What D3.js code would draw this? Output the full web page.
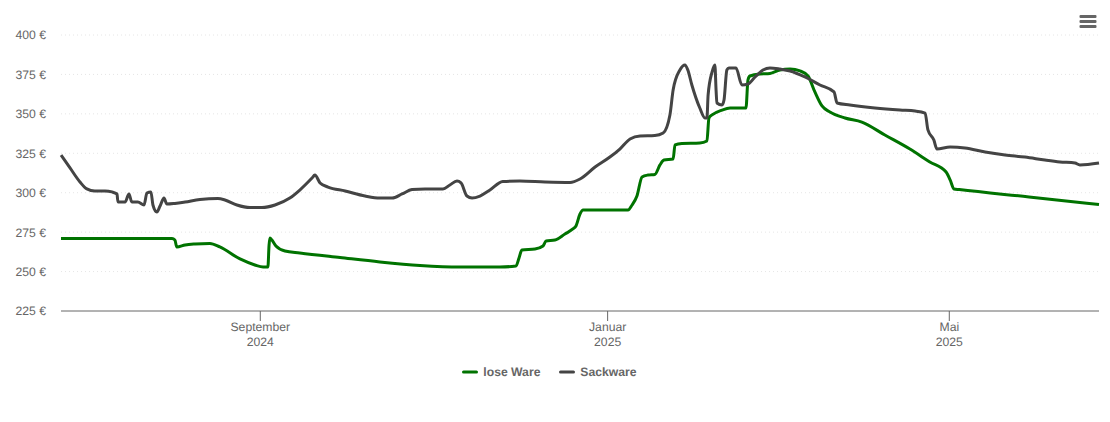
<!DOCTYPE html>
<html>
<head>
<meta charset="utf-8">
<script src="https://cdn.jsdelivr.net/npm/d3@7"></script>
<style>
    body { margin: 0; background: #fff; }
    text { font-family: "Liberation Sans", Arial, sans-serif; text-rendering: geometricPrecision; }
</style>
</head>
<body>
<div id="chart"></div>
<script>
// Data. Days are counted from startDate.
const startDate = new Date(2024, 5, 23);
const endDay = 364.6;

const yTicks = [225, 250, 275, 300, 325, 350, 375, 400];
const monthTicks = [new Date(2024, 8, 1), new Date(2025, 0, 1), new Date(2025, 4, 1)];
const monthNames = ["September", "Januar", "Mai"];
const yearNames = ["2024", "2025", "2025"];

const loseName = "lose Ware";
const loseDays = [0, 39, 40, 40.7, 43.6, 47.1, 52.3, 55.8, 62.9, 68.1, 71, 72.7, 73.1, 73.4, 74.1, 75.5, 78.7, 83.9,
    98, 112, 126.1, 140.1, 154.2, 159.8, 160.9, 161.9, 166.5, 169.3, 170.4, 173.5, 177, 179.8, 180.9, 182.3, 183.4,
    199.2, 200.6, 202.3, 204.1, 206.2, 208.6, 210.4, 211.8, 215, 215.7, 218.1, 224.4, 226.9, 227.6, 228.7, 232.2,
    235, 240.6, 241.3, 242, 245.5, 249, 252.5, 256.1, 259.6, 262.4, 264.8, 267.3, 270.1, 275.4, 281.3, 289.4, 298.2,
    305.2, 310.9, 312.3, 313.7, 315.5, 340, 364.6];
const loseValues = [270.9, 270.9, 270, 265.6, 266.9, 267.5, 267.8, 265.6, 258, 254.2, 252.9, 252.9, 266.9, 271.3, 270, 266.2, 263, 261.8,
    258.9, 256.1, 253.9, 252.9, 252.9, 253.5, 258.6, 263.7, 264.3, 266.2, 269.4, 270, 273.8, 277, 278.9, 286.5, 289,
    289, 292.2, 297.9, 310, 311.2, 311.6, 317.6, 320.7, 321.4, 330.3, 331.2, 331.5, 332.8, 347.4, 349.3, 352.4,
    353.7, 353.7, 371.5, 374, 375.3, 375.6, 377.8, 378.4, 377.2, 374, 363.9, 355, 351.2, 347.4, 344.8, 336.6, 327.7,
    319.5, 313.1, 308.1, 302.4, 302, 297.3, 292.5];

const sackName = "Sackware";
const sackDays = [0, 3.2, 6.7, 9.1, 11.9, 15.5, 17.9, 19.7, 20, 22.5, 23.9, 24.9, 27, 29.2, 30.2, 31.6, 32.3, 33.7, 34.8, 36.2, 37.2,
    40, 43.6, 48.8, 55.1, 57.6, 61.8, 66.4, 70.6, 75.2, 80.4, 83.9, 88.2, 89.2, 91, 93.8, 99.8, 106.8, 112, 116.3, 119.8,
    123.3, 127.9, 134.2, 136.6, 139.1, 140.5, 142.6, 144.4, 147.2, 150.7, 155.2, 161.2, 170, 178.8, 182.3, 187.6, 192.8,
    196.3, 199.9, 203.4, 208.6, 211.5, 213.9, 215, 217.4, 219.2, 220.2, 221.6, 224.4, 226.2, 226.9, 227.3, 228.7, 229.7,
    230.1, 230.4, 232.2, 232.9, 233.9, 234.6, 237.1, 239.2, 241.3, 243.8, 246.6, 249, 252.5, 256.1, 261.3, 266.6, 271.5,
    272.6, 277.1, 285.9, 294.7, 300, 303.5, 304.5, 306.6, 307.7, 312.3, 317.5, 324.6, 331.6, 338.6, 345.6, 350.9, 356.2, 357.9, 364.6];
const sackValues = [323.9, 315.7, 306.8, 302.4, 301.1, 301.1, 300.5, 299.2, 294.1, 294.1, 299.2, 294.1, 294.1, 292.2, 299.8, 300.5, 292.2, 287.8, 291.6, 296.6, 292.8,
    293.2, 294.1, 295.7, 296.3, 295.4, 292.2, 290.6, 290.6, 292.2, 296.6, 301.7, 309.3, 311.2, 306.2, 303.6, 301.1, 297.9, 296.6, 296.6, 299.2,
    302, 302.4, 302.4, 304.9, 307.4, 306.2, 297.9, 296.6, 297.9, 301.7, 307.1, 307.4, 306.8, 306.5, 308.7, 316.3, 322.6,
    327.7, 334.1, 336, 336.3, 337.9, 349.3, 365.1, 377.8, 381, 377.8, 368.3, 353.7, 347.4, 347.4, 362, 376.5, 381,
    365.1, 356.9, 355.6, 358.8, 377.8, 379.1, 379.1, 368.3, 368.9, 373.4, 377.8, 379.1, 378.4, 377.2, 373.4, 368.3, 363.9,
    356.9, 355.6, 353.7, 352.4, 351.8, 350.5, 339.8, 333.4, 327.7, 329, 328.4, 325.8, 323.9, 322.6, 320.7, 319.5, 318.8, 317.6, 318.8];

const width = 1110;
const height = 422;
const plotLeft = 61, plotRight = 1099, plotTop = 35, plotBottom = 311;
const fontSize = 12.2;

const svg = d3.select("#chart")
    .append("svg")
    .attr("width", width)
    .attr("height", height)
    .style("display", "block");

const x = d3.scaleTime()
    .domain([startDate, d3.timeHour.offset(startDate, endDay * 24)])
    .range([plotLeft, plotRight]);

const y = d3.scaleLinear()
    .domain([225, 400])
    .range([plotBottom, plotTop]);

// y axis with dotted grid lines
const yAxis = svg.append("g")
    .attr("transform", `translate(${plotLeft},0)`)
    .call(d3.axisLeft(y).tickValues(yTicks).tickSize(0).tickPadding(15).offset(0).tickFormat(d => d + " €"));
yAxis.select(".domain").remove();
yAxis.selectAll("text")
    .attr("fill", "#666")
    .attr("font-size", fontSize)
    .attr("dy", "0.36em")
    .style("font-family", '"Liberation Sans", Arial, sans-serif');
yAxis.selectAll(".tick")
    .filter(d => d !== 225)
    .append("line")
    .attr("x2", plotRight - plotLeft)
    .attr("stroke", "#e6e6e6")
    .attr("stroke-dasharray", "1,3");

// x axis, month on the first line and year on the second
const xAxis = svg.append("g")
    .attr("transform", `translate(0,${plotBottom})`)
    .call(d3.axisBottom(x).tickValues(monthTicks).tickSize(10).offset(0).tickFormat(""));
xAxis.select(".domain").attr("stroke", "#666").attr("d", `M${plotLeft},0H${plotRight}`);
xAxis.selectAll(".tick line").attr("stroke", "#666");
xAxis.selectAll(".tick text").remove();
xAxis.selectAll(".tick").each(function(d, i) {
    const t = d3.select(this).append("text")
        .attr("text-anchor", "middle")
        .attr("fill", "#666")
        .attr("font-size", fontSize);
    t.append("tspan").attr("x", 0).attr("y", 20).text(monthNames[i]);
    t.append("tspan").attr("x", 0).attr("y", 35).text(yearNames[i]);
});

const line = d3.line()
    .x(d => x(d3.timeHour.offset(startDate, d[0] * 24)))
    .y(d => y(d[1]))
    .curve(d3.curveMonotoneX);

const series = [
    { name: loseName, color: "#007300", rows: d3.zip(loseDays, loseValues) },
    { name: sackName, color: "#444444", rows: d3.zip(sackDays, sackValues) }
];

svg.selectAll("path.series")
    .data(series)
    .enter()
    .append("path")
    .attr("class", "series")
    .attr("fill", "none")
    .attr("stroke", d => d.color)
    .attr("stroke-width", 3)
    .attr("stroke-linejoin", "round")
    .attr("d", d => line(d.rows));

// legend
const legendX = [463, 560];
const legend = svg.selectAll("g.legend")
    .data(series)
    .enter()
    .append("g")
    .attr("class", "legend")
    .attr("transform", (d, i) => `translate(${legendX[i]},372)`);
legend.append("line")
    .attr("x1", 0.5)
    .attr("x2", 13.5)
    .attr("stroke", d => d.color)
    .attr("stroke-width", 3)
    .attr("stroke-linecap", "round");
legend.append("text")
    .attr("x", 20.3)
    .attr("y", 4)
    .attr("font-size", fontSize)
    .attr("font-weight", "bold")
    .attr("fill", "#666")
    .text(d => d.name);

// menu button
svg.selectAll("rect.menu")
    .data([15, 20, 25])
    .enter()
    .append("rect")
    .attr("class", "menu")
    .attr("x", 1079.5)
    .attr("y", d => d)
    .attr("width", 17)
    .attr("height", 3)
    .attr("rx", 1)
    .attr("fill", "#666");
</script>
</body>
</html>
